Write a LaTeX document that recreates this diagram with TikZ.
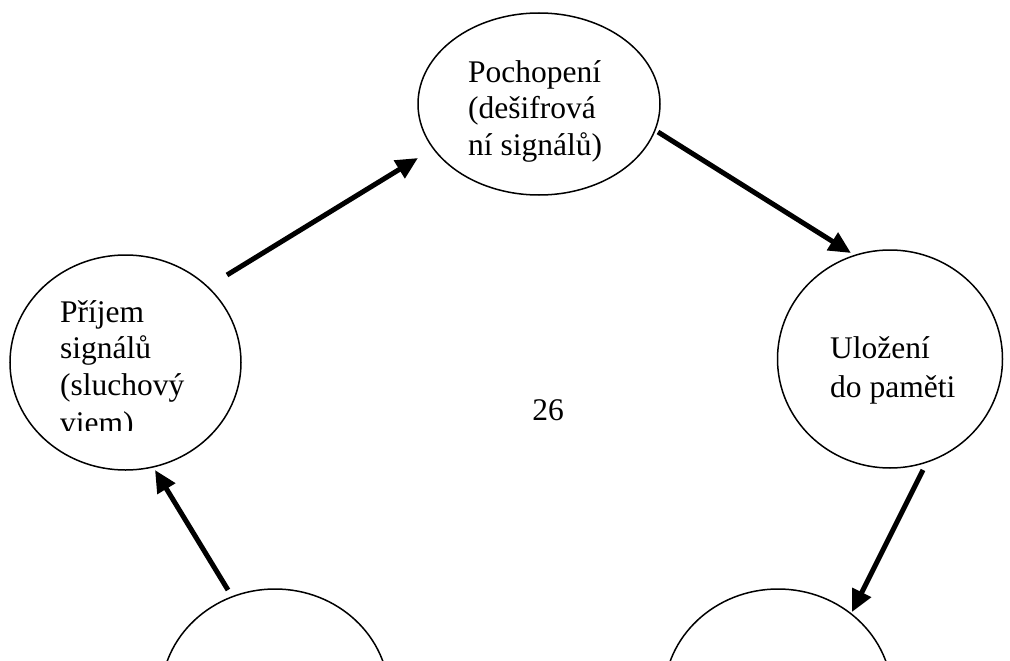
\documentclass[tikz,border=0pt]{standalone}
\usepackage{fontspec}
\setmainfont{Liberation Serif}
\usetikzlibrary{arrows.meta,shapes.geometric}
\tikzset{
  bubble/.style={draw=black, line width=1.5pt, ellipse, inner sep=0pt},
  flow/.style={line width=5pt, -{Triangle[length=22pt,width=20pt]}},
  txt/.style={anchor=base west, inner sep=0pt, font=\fontsize{31.5}{36.5}\selectfont},
}
\begin{document}
\begin{tikzpicture}[x=1pt,y=-1pt]
\useasboundingbox (0,0) rectangle (1010,661);
\begin{scope}
\clip (0,0) rectangle (1010,661);
\node[bubble, minimum width=231pt, minimum height=215pt] (recv) at (125.5,362.5) {};
\node[bubble, minimum width=242pt, minimum height=182pt] (underst) at (539,104) {};
\node[bubble, minimum width=225pt, minimum height=218pt] (store) at (890,359) {};
\node[bubble, minimum width=228pt, minimum height=214pt] (botl) at (275,696) {};
\node[bubble, minimum width=228pt, minimum height=214pt] (botr) at (778,696) {};
\end{scope}
% texts
\node[txt] (t1a) at (468,82) {Pochopení};
\node[txt] (t1b) at (468,118.5) {(dešifrová};
\node[txt] (t1c) at (468,155) {ní signálů)};
\node[txt] (t2a) at (60,322) {Příjem};
\node[txt] (t2b) at (60,358.5) {signálů};
\node[txt] (t2c) at (60,395) {(sluchový};
\begin{scope}
\clip (0,380) rectangle (300,430.5);
\node[txt] (t2d) at (60,433.5) {viem)};
\end{scope}
\node[txt] (t3a) at (830,358) {Uložení};
\node[txt] (t3b) at (830,397) {do paměti};
\node[txt, anchor=base] (pg) at (548,420) {26};
% connectors
\coordinate (a1s) at (227,275);
\coordinate (a1e) at (418,158);
\coordinate (a2s) at (658,132);
\coordinate (a2e) at (851,253);
\coordinate (a3s) at (923,470);
\coordinate (a3e) at (852,612);
\coordinate (a4s) at (228,590);
\coordinate (a4e) at (155,470);
\draw[flow] (a1s) -- (a1e);
\draw[flow] (a2s) -- (a2e);
\draw[flow] (a3s) -- (a3e);
\draw[flow] (a4s) -- (a4e);
\end{tikzpicture}
\end{document}
